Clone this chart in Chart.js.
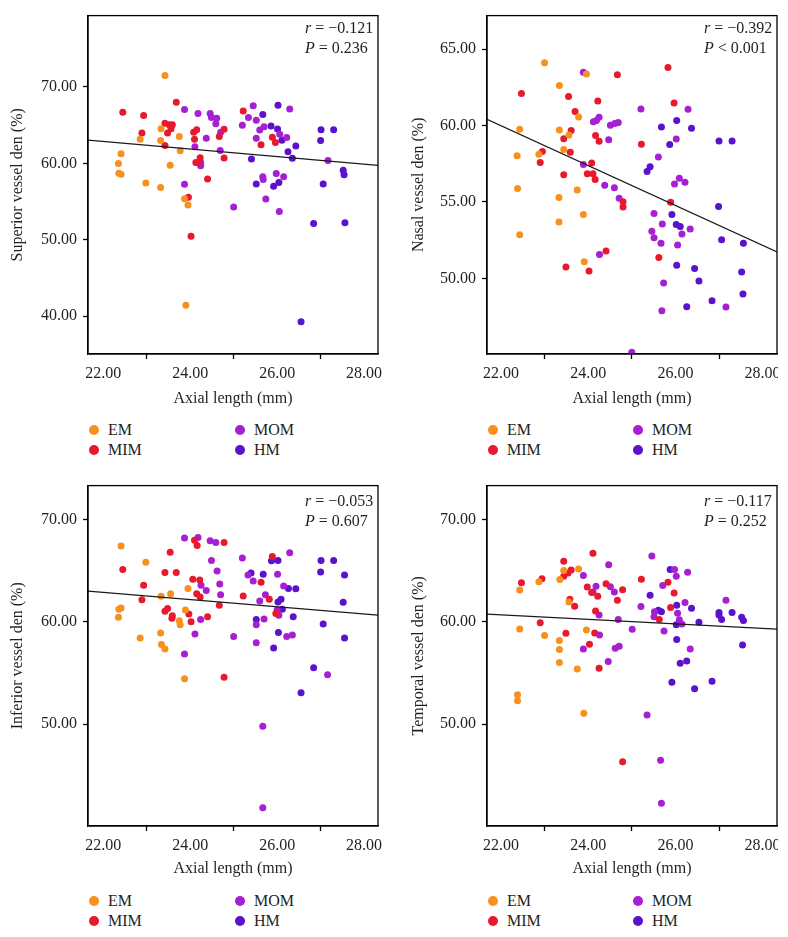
<!DOCTYPE html>
<html>
<head>
<meta charset="utf-8">
<script src="https://cdn.jsdelivr.net/npm/chart.js@4.4.1/dist/chart.umd.min.js"></script>
<style>
  body { margin: 0; background: #fff; width: 788px; height: 937px; position: relative; overflow: hidden;
         font-family: "Liberation Serif", serif; color: #231f20; }
  .panel { position: absolute; overflow: hidden; }
  .item { position: absolute; height: 20px; display: flex; align-items: center; font-size: 16px; white-space: nowrap; }
  .dot { width: 10px; height: 10px; border-radius: 50%; margin-right: 9px; }
</style>
</head>
<body>
<div class="panel" style="left:0;top:0;width:394px;height:410px"><canvas id="c0" width="394" height="410"></canvas></div>
<div class="panel" style="left:394px;top:0;width:384px;height:410px"><canvas id="c1" width="394" height="410"></canvas></div>
<div class="panel" style="left:0;top:470px;width:394px;height:410px"><canvas id="c2" width="394" height="410"></canvas></div>
<div class="panel" style="left:394px;top:470px;width:384px;height:410px"><canvas id="c3" width="394" height="410"></canvas></div>
<div id="legends"></div>
<script>
const groups = ['EM', 'MIM', 'MOM', 'HM'];
const groupColors = ['#F7901E', '#E8192C', '#A61FD3', '#5A12CC'];

// Superior
const supEM = [[23.42,71.5],[23.33,64.54],[22.85,63.16],[23.32,62.99],[23.75,63.5],[23.77,61.66],[22.41,61.27],[22.35,59.98],[22.36,58.69],[22.41,58.56],[23.54,59.76],[22.98,57.44],[23.32,56.84],[23.87,55.38],[23.95,54.56],[23.90,41.43]];
const supMIM = [[22.45,66.69],[22.93,66.26],[23.68,68.0],[22.89,63.98],[23.42,65.26],[23.52,65.05],[23.59,65.05],[23.56,64.53],[23.48,63.98],[23.42,62.34],[24.15,64.4],[24.08,64.06],[24.10,63.16],[24.78,64.45],[24.67,63.5],[24.23,60.75],[24.19,60.1],[24.13,60.1],[24.78,60.7],[24.40,57.95],[23.96,55.55],[24.02,50.46],[25.22,66.85],[25.63,62.43],[25.89,63.42],[25.96,62.72]];
const supMOM = [[23.87,67.03],[24.18,66.51],[24.46,66.51],[24.49,66.0],[24.61,65.9],[24.59,65.17],[24.70,64.06],[24.37,63.29],[24.11,62.17],[24.69,61.69],[24.24,60.1],[24.24,59.7],[23.87,57.26],[25.0,54.3],[25.45,67.55],[25.34,66.0],[25.52,65.65],[25.20,64.97],[25.60,64.36],[25.70,64.79],[25.52,63.29],[26.29,67.11],[26.06,63.8],[26.22,63.37],[25.67,58.26],[25.68,57.9],[25.98,58.68],[26.15,58.26],[25.74,55.33],[26.05,53.7],[27.17,60.36]];
const supHM = [[26.02,67.59],[25.67,66.39],[25.86,64.88],[26.01,64.49],[26.11,63.03],[26.43,62.26],[26.25,61.52],[26.35,60.66],[25.41,60.58],[25.52,57.31],[25.92,57.01],[26.04,57.48],[27.01,64.4],[27.30,64.4],[27.0,62.98],[27.06,57.31],[27.52,59.11],[27.54,58.52],[26.84,52.14],[27.56,52.23],[26.55,39.29]];

// Nasal
const nasEM = [[23.00,64.12],[23.96,63.37],[23.34,62.62],[23.78,60.56],[22.43,59.76],[23.34,59.72],[23.56,59.38],[23.44,58.43],[22.37,58.03],[22.87,58.13],[22.38,55.88],[23.33,55.3],[23.75,55.79],[23.89,54.18],[23.33,53.69],[22.43,52.85],[23.91,51.09]];
const nasMIM = [[22.47,62.10],[23.55,61.91],[24.67,63.33],[24.22,61.61],[23.70,60.92],[23.61,59.68],[23.44,59.14],[23.59,58.26],[24.17,59.36],[24.25,58.97],[22.95,58.30],[22.90,57.58],[24.08,57.55],[23.44,56.78],[23.98,56.85],[24.11,56.85],[24.16,56.48],[24.80,55.02],[24.80,54.68],[25.22,58.78],[25.83,63.8],[25.97,61.48],[25.89,54.98],[25.62,51.37],[24.41,51.8],[23.49,50.75],[24.02,50.49]];
const nasMOM = [[23.89,63.5],[24.12,60.26],[24.19,60.34],[24.25,60.54],[24.51,60.02],[24.61,60.13],[24.69,60.21],[24.47,59.08],[25.21,61.09],[26.29,61.07],[26.02,59.12],[25.61,57.94],[23.89,57.45],[24.38,56.09],[24.60,55.94],[24.71,55.24],[25.98,56.18],[26.09,56.55],[26.22,56.29],[25.51,54.25],[25.70,53.56],[25.46,53.09],[25.51,52.66],[25.67,52.30],[26.05,52.19],[26.15,52.90],[26.34,53.24],[24.26,51.57],[25.73,49.70],[25.69,47.88],[27.16,48.13],[25.0,45.17]];
const nasHM = [[26.03,60.34],[26.37,59.83],[25.68,59.91],[25.87,58.76],[27.0,58.99],[27.30,58.99],[25.42,57.30],[25.35,57.0],[25.92,54.18],[26.02,53.52],[26.11,53.39],[26.99,54.70],[27.06,52.53],[27.56,52.30],[26.03,50.86],[26.44,50.64],[26.54,49.83],[27.52,50.41],[27.55,48.97],[26.84,48.54],[26.26,48.15]];

// Inferior
const infEM = [[22.41,67.40],[22.98,65.82],[23.95,63.25],[23.55,62.73],[23.33,62.48],[22.36,61.22],[22.41,61.35],[22.35,60.45],[23.89,61.16],[23.75,60.10],[23.77,59.71],[22.85,58.42],[23.32,58.91],[23.34,57.78],[23.42,57.33],[23.87,54.44]];
const infMIM = [[22.45,65.11],[22.93,63.57],[22.89,62.15],[23.54,66.78],[23.42,64.82],[23.68,64.82],[24.10,67.97],[24.16,67.46],[24.78,67.75],[24.06,64.15],[24.22,64.08],[24.15,62.73],[24.23,62.41],[23.42,61.03],[23.48,61.29],[23.59,60.58],[23.58,60.35],[23.97,60.77],[24.02,60.0],[24.40,60.48],[24.67,61.61],[25.22,62.51],[25.89,66.37],[25.63,63.86],[25.82,62.19],[25.97,60.8],[24.78,54.58]];
const infMOM = [[23.87,68.17],[24.18,68.23],[24.46,67.91],[24.59,67.75],[24.49,65.98],[24.62,64.95],[24.25,63.57],[24.37,63.05],[24.68,63.70],[24.70,62.64],[24.24,60.23],[24.11,58.81],[23.87,56.85],[25.0,58.55],[25.20,66.24],[25.33,64.57],[25.45,63.99],[25.60,62.03],[25.73,62.64],[26.01,64.63],[26.15,63.50],[26.29,66.75],[25.70,60.26],[25.52,59.71],[25.52,57.94],[26.22,58.55],[26.35,58.71],[26.0,61.16],[26.04,60.64],[25.67,49.8],[25.67,41.83],[27.16,54.83]];
const infHM = [[25.87,65.95],[26.02,65.98],[25.68,64.63],[25.40,64.76],[26.26,63.25],[26.43,63.22],[26.02,61.93],[26.09,62.19],[26.12,61.22],[25.52,60.23],[26.37,60.48],[26.03,58.94],[25.92,57.43],[27.01,65.98],[27.30,65.98],[27.0,64.86],[27.55,64.57],[27.52,61.9],[27.06,59.78],[27.55,58.42],[26.84,55.5],[26.55,53.06]];

// Temporal
const temEM = [[23.78,65.16],[23.44,65.0],[23.35,64.13],[22.87,63.90],[22.43,63.10],[23.56,61.94],[22.43,59.29],[23.0,58.65],[23.96,59.19],[23.34,58.16],[23.34,57.29],[23.34,56.03],[23.75,55.39],[22.38,52.87],[22.38,52.29],[23.90,51.06]];
const temMIM = [[22.47,63.81],[22.94,64.19],[23.44,65.90],[23.44,64.45],[23.54,64.77],[23.61,65.06],[24.11,66.68],[23.98,63.39],[24.08,62.87],[24.22,62.48],[24.41,63.71],[24.79,63.13],[24.67,62.10],[23.58,62.19],[23.69,61.52],[24.17,61.06],[22.90,59.90],[23.49,58.87],[24.15,58.90],[24.03,57.81],[24.25,55.45],[25.22,64.16],[25.83,63.87],[25.97,62.81],[25.89,61.39],[25.63,60.23],[24.79,46.32]];
const temMOM = [[23.89,64.52],[24.47,65.58],[24.18,63.48],[24.11,62.90],[24.60,62.90],[24.51,63.42],[24.25,60.65],[24.69,60.23],[24.26,58.71],[23.89,57.35],[24.62,57.42],[24.71,57.61],[24.46,56.13],[25.01,59.26],[25.46,66.42],[25.21,61.48],[25.71,63.55],[25.98,65.10],[26.02,64.45],[26.28,64.84],[26.22,61.87],[25.52,60.97],[25.51,60.48],[26.05,60.84],[26.09,60.19],[26.15,59.77],[25.74,59.10],[26.34,57.35],[27.16,62.10],[25.35,50.90],[25.66,46.48],[25.68,42.28]];
const temHM = [[25.88,65.10],[25.42,62.58],[26.03,61.61],[26.37,61.32],[25.68,60.97],[25.61,61.13],[26.02,59.71],[26.54,59.94],[26.03,58.26],[27.0,60.9],[27.0,60.65],[27.06,60.23],[27.30,60.9],[27.52,60.45],[27.56,60.13],[27.54,57.74],[26.11,55.94],[26.26,56.16],[25.92,54.10],[26.44,53.45],[26.84,54.19]];

// Fitted regression lines (endpoints at axis bounds)
const supFit = [[21.65,63.03],[28.32,59.74]];
const nasFit = [[21.68,60.41],[28.33,51.73]];
const infFit = [[21.65,63.0],[28.32,60.64]];
const temFit = [[21.68,60.74],[28.33,59.28]];

const yTitles = ['Superior vessel den (%)', 'Nasal vessel den (%)', 'Inferior vessel den (%)', 'Temporal vessel den (%)'];
const rTexts = ['\u22120.121', '\u22120.392', '\u22120.053', '\u22120.117'];
const pTexts = ['= 0.236', '< 0.001', '= 0.607', '= 0.252'];
const xTitle = 'Axial length (mm)';

const FONT = '"Liberation Serif", serif';
const INK = '#231f20';

const panels = [
  { id: 'c0', pts: [supEM, supMIM, supMOM, supHM], fit: supFit, xMin: 21.65, xMax: 28.32, yMin: 35.06, yMax: 79.33, yStep: 10,
    yWidth: 88, padTop: 11, padRight: 16, xHeight: 56, yTitlePad: 8.4, noteDy: 13 },
  { id: 'c1', pts: [nasEM, nasMIM, nasMOM, nasHM], fit: nasFit, xMin: 21.68, xMax: 28.33, yMin: 45.05, yMax: 67.2, yStep: 5,
    yWidth: 93, padTop: 11, padRight: 11, xHeight: 56, yTitlePad: 15.4, noteDy: 13 },
  { id: 'c2', pts: [infEM, infMIM, infMOM, infHM], fit: infFit, xMin: 21.65, xMax: 28.32, yMin: 40.05, yMax: 73.3, yStep: 10,
    yWidth: 88, padTop: 12, padRight: 16, xHeight: 54, yTitlePad: 8.4, noteDy: 16.5 },
  { id: 'c3', pts: [temEM, temMIM, temMOM, temHM], fit: temFit, xMin: 21.68, xMax: 28.33, yMin: 40.05, yMax: 73.3, yStep: 10,
    yWidth: 93, padTop: 12, padRight: 11, xHeight: 54, yTitlePad: 15.4, noteDy: 16.5 }
];

const framePlugin = {
  id: 'frame',
  afterDatasetsDraw(chart, args, opts) {
    const { ctx, chartArea: a } = chart;
    ctx.save();
    ctx.strokeStyle = '#000';
    ctx.lineWidth = 1.3;
    ctx.strokeRect(a.left, a.top, a.right - a.left, a.bottom - a.top);
    // r / P note
    ctx.fillStyle = INK;
    ctx.textBaseline = 'middle';
    const x0 = a.right - 73;
    const y1 = a.top + opts.dy, y2 = y1 + 20;
    ctx.font = 'italic 16px "Liberation Serif"';
    ctx.fillText('r', x0, y1);
    let w = ctx.measureText('r').width;
    ctx.font = '16px "Liberation Serif"';
    ctx.fillText(' = ' + opts.r, x0 + w, y1);
    ctx.font = 'italic 16px "Liberation Serif"';
    ctx.fillText('P', x0, y2);
    w = ctx.measureText('P').width;
    ctx.font = '16px "Liberation Serif"';
    ctx.fillText(' ' + opts.p, x0 + w, y2);
    ctx.restore();
  }
};

panels.forEach((p, k) => {
  const datasets = groups.map((g, i) => ({
    type: 'scatter',
    label: g,
    data: p.pts[i].map(([x, y]) => ({ x, y })),
    backgroundColor: groupColors[i],
    borderWidth: 0,
    pointRadius: 3.5,
    pointHoverRadius: 3.5
  }));
  datasets.push({
    type: 'line',
    label: 'fit',
    data: p.fit.map(([x, y]) => ({ x, y })),
    borderColor: '#1a1a1a',
    borderWidth: 1.2,
    pointRadius: 0,
    fill: false,
    order: -1
  });

  new Chart(document.getElementById(p.id), {
    type: 'scatter',
    data: { datasets },
    options: {
      responsive: false,
      animation: false,
      events: [],
      layout: { padding: { left: 0, top: p.padTop, right: p.padRight, bottom: 0 } },
      plugins: {
        legend: { display: false },
        tooltip: { enabled: false },
        frame: { dy: p.noteDy, r: rTexts[k], p: pTexts[k] }
      },
      scales: {
        x: {
          type: 'linear', min: p.xMin, max: p.xMax,
          ticks: {
            stepSize: 1, includeBounds: false, autoSkip: false, maxRotation: 0, padding: 5,
            color: INK, font: { family: FONT, size: 16 },
            callback: v => (v % 2 === 0 ? v.toFixed(2) : '')
          },
          grid: {
            drawOnChartArea: false, tickLength: 5, tickWidth: 1.3,
            tickColor: c => (c.tick && c.tick.value % 2 !== 0 ? '#000' : 'rgba(0,0,0,0)')
          },
          border: { color: '#000', width: 1.3 },
          title: { display: true, text: xTitle, color: INK, font: { family: FONT, size: 16 }, padding: { top: 0, bottom: 2 } },
          afterFit: s => { s.height = p.xHeight; }
        },
        y: {
          type: 'linear', min: p.yMin, max: p.yMax,
          ticks: {
            stepSize: p.yStep, includeBounds: false, padding: 6,
            color: INK, font: { family: FONT, size: 16 },
            callback: v => v.toFixed(2)
          },
          grid: { drawOnChartArea: false, tickLength: 5, tickWidth: 1.3, tickColor: '#000' },
          border: { color: '#000', width: 1.3 },
          title: { display: true, text: yTitles[k], color: INK, font: { family: FONT, size: 16 }, padding: { top: p.yTitlePad, bottom: 0 } },
          afterFit: s => { s.width = p.yWidth; }
        }
      }
    },
    plugins: [framePlugin]
  });
});

// HTML legends, two columns (EM/MIM, MOM/HM)
const legendCols = [[94, 240], [493, 638]];
const legendRows = [[430, 450], [900.7, 920.7]];
const legendHost = document.getElementById('legends');
panels.forEach((p, k) => {
  const cols = legendCols[k % 2], rows = legendRows[Math.floor(k / 2)];
  groups.forEach((g, i) => {
    const el = document.createElement('div');
    el.className = 'item';
    el.style.left = (cols[Math.floor(i / 2)] - 5) + 'px';
    el.style.top = (rows[i % 2] - 10) + 'px';
    el.innerHTML = '<span class="dot" style="background:' + groupColors[i] + '"></span>' + g;
    legendHost.appendChild(el);
  });
});
</script>
</body>
</html>
